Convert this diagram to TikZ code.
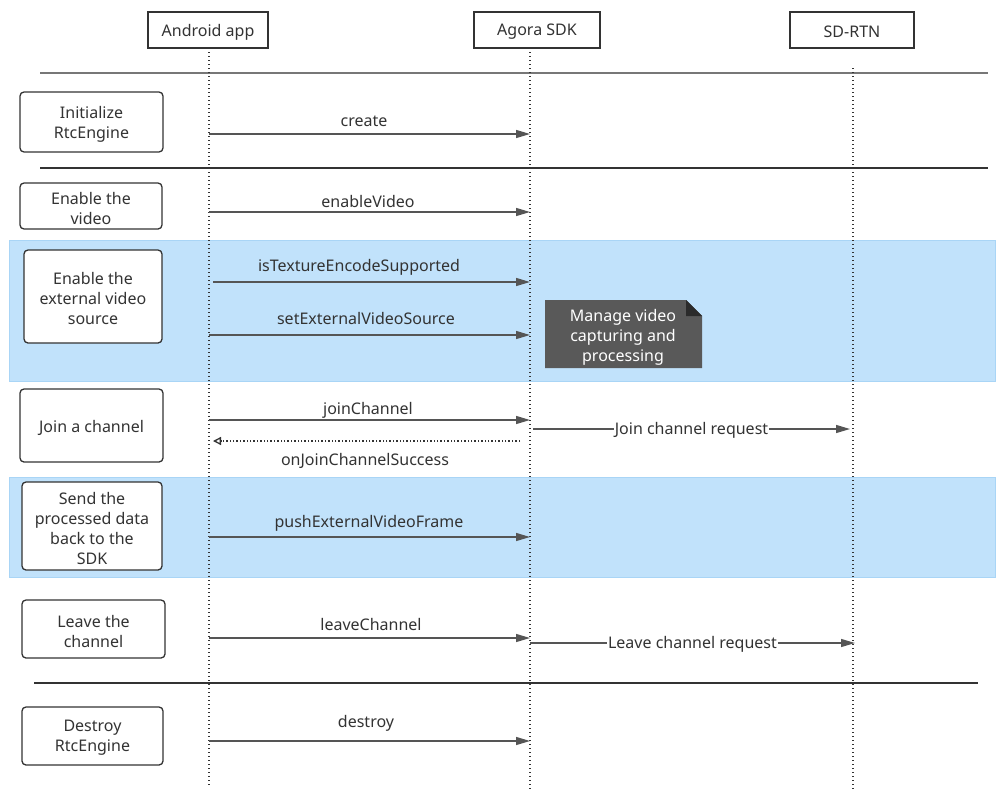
\documentclass[tikz,border=0pt]{standalone}
\usepackage{fontspec}
\setmainfont{Noto Sans}
\usetikzlibrary{arrows.meta}
\definecolor{dk}{HTML}{333333}
\definecolor{ln}{HTML}{555555}
\definecolor{sep}{HTML}{777777}
\definecolor{band}{HTML}{C1E2FB}
\definecolor{bandb}{HTML}{A9D5F6}
\definecolor{notec}{HTML}{595959}
\definecolor{fold}{HTML}{2B2B2B}
\tikzset{
  part/.style={draw=dk, line width=1.3pt, fill=white, minimum height=36pt, inner sep=0pt, text=dk},
  stepbox/.style={draw=dk, line width=1.3pt, rounded corners=4pt, fill=white, inner sep=0pt},
  boxtext/.style={label={[align=center, text=dk, inner sep=0pt, yshift=-2pt]center:#1}},
  msg/.style={draw=ln, line width=1.3pt, -{Triangle[length=14pt,width=8pt]}},
  ret/.style={draw=dk, line width=1.4pt, dash pattern=on 1.4pt off 2pt, -{Triangle[open,length=8pt,width=8pt,line width=1.3pt]}},
  lbl/.style={text=dk, inner sep=0pt},
  life/.style={draw=dk, line width=1.3pt, dash pattern=on 1.3pt off 2.7pt},
  seprule/.style={line width=1.4pt},
}
\begin{document}
\begin{tikzpicture}[x=1pt,y=-1pt,font=\fontsize{16}{20}\selectfont]
\useasboundingbox (0,0) rectangle (1001,803);
\fill[white] (0,0) rectangle (1001,803);

% bands
\draw[bandb, fill=band, line width=1pt] (9,240) rectangle (995,381);
\draw[bandb, fill=band, line width=1pt] (9,477) rectangle (995,577);

% separators
\draw[seprule, sep] (40,73) -- (988,73);
\draw[seprule, dk] (40,168) -- (988,168);
\draw[seprule, dk] (34,683) -- (978,683);

% participants
\node[part, minimum width=120pt, boxtext={Android app}] (app) at (208,30) {};
\node[part, minimum width=126pt, boxtext={Agora SDK}] (sdk) at (537,30) {};
\node[part, minimum width=124pt, boxtext={SD-RTN}] (rtn) at (852,30) {};

% lifelines
\coordinate (appT) at (209,48);
\coordinate (appB) at (209,785);
\coordinate (sdkT) at (530,48);
\coordinate (sdkB) at (530,790);
\coordinate (rtnT) at (853,68);
\coordinate (rtnB) at (853,790);
\draw[life] (appT) -- (appB);
\draw[life] (sdkT) -- (sdkB);
\draw[life] (rtnT) -- (rtnB);

% step boxes
\node[stepbox, minimum width=143pt, minimum height=60pt, boxtext={Initialize\\RtcEngine}] (s1) at (91.5,122) {};
\node[stepbox, minimum width=142pt, minimum height=46pt, boxtext={Enable the\\video}] (s2) at (91,206) {};
\node[stepbox, minimum width=138pt, minimum height=93pt, boxtext={Enable the\\external video\\source}] (s3) at (93,296.5) {};
\node[stepbox, minimum width=143pt, minimum height=73pt, boxtext={Join a channel}] (s4) at (91.5,425.5) {};
\node[stepbox, minimum width=140pt, minimum height=88pt, boxtext={Send the\\processed data\\back to the\\SDK}] (s5) at (92,526) {};
\node[stepbox, minimum width=143pt, minimum height=58pt, boxtext={Leave the\\channel}] (s6) at (93.5,629) {};
\node[stepbox, minimum width=141pt, minimum height=58pt, boxtext={Destroy\\RtcEngine}] (s7) at (92.5,736) {};

% messages
\coordinate (a1) at (209,134); \coordinate (b1) at (530,134);
\draw[msg] (a1) -- (b1);
\node[lbl] (l1) at (364,121) {create};

\coordinate (a2) at (209,212); \coordinate (b2) at (530,212);
\draw[msg] (a2) -- (b2);
\node[lbl] (l2) at (368,201) {enableVideo};

\coordinate (a3) at (213,282); \coordinate (b3) at (530,282);
\draw[msg] (a3) -- (b3);
\node[lbl] (l3) at (359,267) {isTextureEncodeSupported};

\coordinate (a4) at (209,335); \coordinate (b4) at (530,335);
\draw[msg] (a4) -- (b4);
\node[lbl] (l4) at (366,318) {setExternalVideoSource};

% note
\fill[notec] (545,300) -- (686,300) -- (702,316) -- (702,368) -- (545,368) -- cycle;
\fill[fold] (686,300) -- (702,316) -- (686,316) -- cycle;
\node[lbl, text=white, align=center] (note) at (623,337) {Manage video\\capturing and\\processing};

% join
\coordinate (a5) at (209,420); \coordinate (b5) at (530,420);
\draw[msg] (a5) -- (b5);
\node[lbl] (l5) at (368,410) {joinChannel};
\coordinate (c5) at (520,441); \coordinate (d5) at (213,441);
\draw[ret] (c5) -- (d5);
\node[lbl] (l6) at (365,461) {onJoinChannelSuccess};
\coordinate (e5) at (533,429); \coordinate (f5) at (850,429);
\draw[msg] (e5) -- node[lbl, fill=white, inner xsep=1pt, inner ysep=2pt, yshift=-1.5pt] (l7) {Join channel request} (f5);

% push
\coordinate (a6) at (209,537); \coordinate (b6) at (530,537);
\draw[msg] (a6) -- (b6);
\node[lbl] (l8) at (369,523) {pushExternalVideoFrame};

% leave
\coordinate (a7) at (209,638); \coordinate (b7) at (530,638);
\draw[msg] (a7) -- (b7);
\node[lbl] (l9) at (371,624) {leaveChannel};
\coordinate (e7) at (530,643); \coordinate (f7) at (855,643);
\draw[msg] (e7) -- node[lbl, fill=white, inner xsep=1pt, inner ysep=2pt, yshift=-1.5pt] (l10) {Leave channel request} (f7);

% destroy
\coordinate (a8) at (209,741); \coordinate (b8) at (530,741);
\draw[msg] (a8) -- (b8);
\node[lbl] (l11) at (366,723) {destroy};
\end{tikzpicture}
\end{document}
